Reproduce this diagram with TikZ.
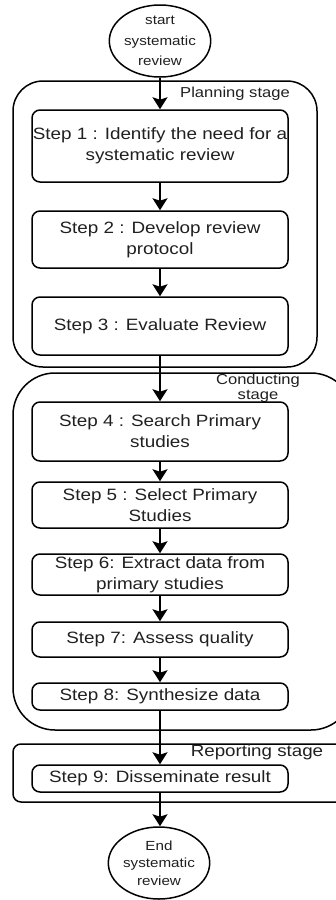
\documentclass[tikz,border=0pt]{standalone}
\usepackage{fontspec}
\setmainfont{Liberation Sans}[FakeStretch=1.15]
\usetikzlibrary{arrows.meta}
\definecolor{txt}{HTML}{202020}
\tikzset{
  stepbox/.style={draw, line width=1.5pt, rounded corners=8pt, minimum width=256pt, inner sep=0pt, align=center, text=txt, font=\fontsize{16.4}{21}\selectfont},
  stagebox/.style={draw, line width=1.5pt, inner sep=0pt},
  terminal/.style={draw, ellipse, line width=1.5pt, inner sep=0pt, align=center, text=txt, font=\fontsize{13.2}{20.5}\selectfont},
  stagelabel/.style={text=txt, align=center, inner sep=0pt},
  flow/.style={line width=1.8pt, -{Stealth[length=12pt,width=15pt,inset=2.5pt]}}
}
\usetikzlibrary{shapes.geometric}
\begin{document}
\begin{tikzpicture}[x=1pt,y=-1pt]
\useasboundingbox (0,0) rectangle (335,900);
% stage containers
\node[stagebox, rounded corners=30pt, minimum width=304pt, minimum height=286pt] (plan) at (165,224) {};
\node[stagebox, rounded corners=42pt, minimum width=340pt, minimum height=357pt] (cond) at (183,551.5) {};
\node[stagebox, rounded corners=8pt, minimum width=340pt, minimum height=58pt] (rep) at (183,773) {};
\node[stagelabel, font=\fontsize{14.4}{15}\selectfont] (planlbl) at (235,94) {Planning stage};
\node[stagelabel, font=\fontsize{14.4}{15}\selectfont] (condlbl) at (258,388) {Conducting\\stage};
\node[stagelabel, font=\fontsize{16.3}{18}\selectfont] (replbl) at (257,752) {Reporting stage};
% terminals
\node[terminal, minimum width=93pt, minimum height=72pt] (start) at (160,41) {start\\systematic\\review};
\node[terminal, minimum width=90pt, minimum height=72pt, font=\fontsize{13.2}{17.3}\selectfont] (end) at (159,863) {End\\systematic\\review};
% steps
\node[stepbox, minimum height=72pt] (s1) at (160,146) {Step 1 : Identify the need for a\\systematic review};
\node[stepbox, minimum height=57pt] (s2) at (160,239.5) {Step 2 : Develop review\\protocol};
\node[stepbox, minimum height=58pt] (s3) at (160,326) {Step 3 : Evaluate Review};
\node[stepbox, minimum height=59pt] (s4) at (160,431.5) {Step 4 : Search Primary\\studies};
\node[stepbox, minimum height=46pt] (s5) at (160,505) {Step 5 : Select Primary\\Studies};
\node[stepbox, minimum height=41pt] (s6) at (160,574.5) {Step 6: Extract data from\\primary studies};
\node[stepbox, minimum height=35pt] (s7) at (160,639.5) {Step 7: Assess quality};
\node[stepbox, minimum height=27pt] (s8) at (160,696.5) {Step 8: Synthesize data};
\node[stepbox, minimum height=27pt] (s9) at (160,778.5) {Step 9: Disseminate result};
% connectors
\draw[flow] (start) -- (s1);
\draw[flow] (s1) -- (s2);
\draw[flow] (s2) -- (s3);
\draw[flow] (s3) -- (s4);
\draw[flow] (s4) -- (s5);
\draw[flow] (s5) -- (s6);
\draw[flow] (s6) -- (s7);
\draw[flow] (s7) -- (s8);
\draw[flow] (s8) -- (s9);
\draw[flow] (s9.south) -- (s9.south |- end.north);
\end{tikzpicture}
\end{document}
